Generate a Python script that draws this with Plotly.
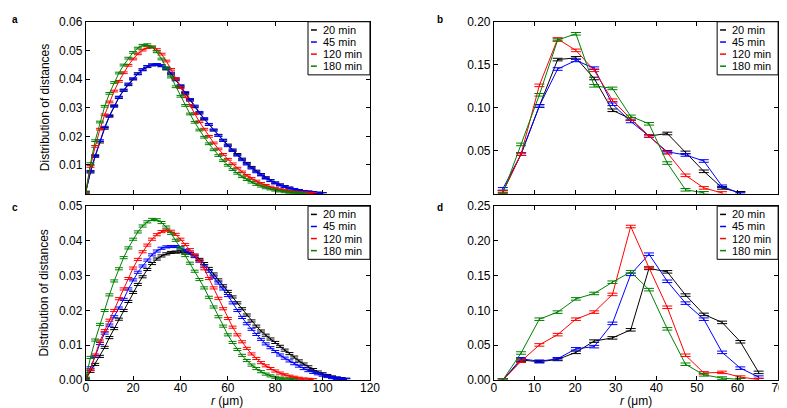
import plotly.graph_objects as go

# ---------------- data ----------------
SERIES = ["20 min", "45 min", "120 min", "180 min"]
COLORS = ["#000000", "#0000ff", "#ff0000", "#008000"]

R_FINE = [0, 2, 4, 6, 8, 10, 12, 14, 16, 18, 20, 22, 24, 26, 28, 30, 32, 34, 36, 38,
          40, 42, 44, 46, 48, 50, 52, 54, 56, 58, 60, 62, 64, 66, 68, 70, 72, 74, 76, 78,
          80, 82, 84, 86, 88, 90, 92, 94, 96, 98, 100, 102, 104, 106, 108, 110]

R_BIN = [2.2, 6.7, 11.2, 15.7, 20.2, 24.7, 29.2, 33.7, 38.2, 42.7, 47.2, 51.7, 56.2, 60.7, 65.2]

# panel a
a_20 = [0.0005, 0.0075, 0.013, 0.018, 0.0228, 0.027, 0.0305, 0.0335, 0.036, 0.038,
        0.040, 0.0418, 0.0432, 0.0443, 0.0449, 0.0450, 0.0446, 0.0435, 0.0418, 0.0397,
        0.0374, 0.0350, 0.0326, 0.0303, 0.0281, 0.0260, 0.0241, 0.0222, 0.0204, 0.0187,
        0.0170, 0.0153, 0.0137, 0.0121, 0.0106, 0.0092, 0.0079, 0.0067, 0.0056, 0.0046,
        0.0038, 0.0031, 0.0025, 0.0020, 0.0015, 0.0011, 0.0008, 0.0006, 0.0004, 0.0002, 0.0001]
a_45 = [0.0005, 0.0078, 0.0133, 0.0185, 0.0232, 0.0272, 0.0307, 0.0337, 0.0362, 0.0383,
        0.0401, 0.0419, 0.0433, 0.0444, 0.0450, 0.0451, 0.0447, 0.0437, 0.0421, 0.0400,
        0.0377, 0.0353, 0.0329, 0.0306, 0.0284, 0.0262, 0.0242, 0.0222, 0.0203, 0.0185,
        0.0167, 0.0150, 0.0134, 0.0118, 0.0103, 0.0089, 0.0076, 0.0065, 0.0054, 0.0045,
        0.0037, 0.0030, 0.0024, 0.0019, 0.0015, 0.0011, 0.0008, 0.0006, 0.0004, 0.0002, 0.0001]
a_120 = [0.0005, 0.0095, 0.0165, 0.0225, 0.0275, 0.032, 0.0358, 0.0392, 0.0422, 0.0448,
         0.0470, 0.0488, 0.0501, 0.0510, 0.0512, 0.0503, 0.0487, 0.0463, 0.0434, 0.0402,
         0.0370, 0.0338, 0.0308, 0.0279, 0.0251, 0.0225, 0.0200, 0.0177, 0.0156, 0.0137,
         0.0120, 0.0104, 0.0089, 0.0076, 0.0064, 0.0053, 0.0044, 0.0036, 0.0029, 0.0023,
         0.0018, 0.0014, 0.0011, 0.0008, 0.0006, 0.0004, 0.0003, 0.0002, 0.0001]
a_180 = [0.0005, 0.0105, 0.0185, 0.025, 0.0305, 0.035, 0.0388, 0.0421, 0.0449, 0.0473,
         0.0493, 0.0508, 0.0518, 0.0520, 0.0512, 0.0495, 0.0470, 0.0440, 0.0407, 0.0373,
         0.0340, 0.0308, 0.0278, 0.0249, 0.0222, 0.0197, 0.0174, 0.0153, 0.0133, 0.0115,
         0.0099, 0.0084, 0.0071, 0.0059, 0.0049, 0.0040, 0.0032, 0.0026, 0.0020, 0.0016,
         0.0012, 0.0009, 0.0006, 0.0004, 0.0003, 0.0002, 0.0001]

# panel c
c_20 = [0.0002, 0.0025, 0.0045, 0.0068, 0.0094, 0.0122, 0.0148, 0.0175, 0.0200, 0.0226,
        0.0252, 0.0275, 0.0297, 0.0318, 0.0335, 0.0348, 0.0357, 0.0363, 0.0367, 0.0368,
        0.0369, 0.0368, 0.0364, 0.0357, 0.0347, 0.0335, 0.0321, 0.0305, 0.0288, 0.0271,
        0.0255, 0.0239, 0.0222, 0.0205, 0.0187, 0.0170, 0.0155, 0.0141, 0.0129, 0.0118,
        0.0108, 0.0097, 0.0086, 0.0076, 0.0066, 0.0055, 0.0046, 0.0038, 0.0030, 0.0023,
        0.0018, 0.0013, 0.0009, 0.0006, 0.0004, 0.0002]
c_45 = [0.0003, 0.0035, 0.0068, 0.0105, 0.0135, 0.0158, 0.0182, 0.0207, 0.0232, 0.0262,
        0.0288, 0.0310, 0.0328, 0.0345, 0.0360, 0.0371, 0.0379, 0.0383, 0.0384, 0.0384,
        0.0380, 0.0373, 0.0365, 0.0355, 0.0342, 0.0328, 0.0313, 0.0296, 0.0279, 0.0262,
        0.0243, 0.0222, 0.0200, 0.0180, 0.0162, 0.0146, 0.0131, 0.0117, 0.0104, 0.0093,
        0.0082, 0.0072, 0.0063, 0.0055, 0.0047, 0.0040, 0.0033, 0.0027, 0.0022, 0.0018,
        0.0014, 0.0010, 0.0007, 0.0005, 0.0003, 0.0002]
c_120 = [0.0005, 0.0030, 0.0072, 0.0112, 0.0142, 0.0172, 0.0200, 0.0234, 0.0262, 0.0292,
         0.0322, 0.0347, 0.0369, 0.0388, 0.0405, 0.0418, 0.0427, 0.0431, 0.0428, 0.0419,
         0.0405, 0.0390, 0.0375, 0.0360, 0.0343, 0.0320, 0.0292, 0.0265, 0.0235, 0.0205,
         0.0177, 0.0152, 0.0130, 0.0110, 0.0091, 0.0075, 0.0062, 0.0050, 0.0041, 0.0033,
         0.0026, 0.0020, 0.0015, 0.0011, 0.0008, 0.0005, 0.0003, 0.0002, 0.0001]
c_180 = [0.0005, 0.0065, 0.0115, 0.0160, 0.0200, 0.0245, 0.0285, 0.0320, 0.0352, 0.0380,
         0.0405, 0.0426, 0.0443, 0.0455, 0.0462, 0.0461, 0.0453, 0.0440, 0.0422, 0.0402,
         0.0380, 0.0358, 0.0336, 0.0313, 0.0289, 0.0265, 0.0238, 0.0210, 0.0182, 0.0155,
         0.0130, 0.0108, 0.0088, 0.0071, 0.0056, 0.0043, 0.0033, 0.0024, 0.0017, 0.0012,
         0.0008, 0.0005, 0.0003, 0.0002, 0.0001]

# panel b
b_20 = [0.002, 0.046, 0.102, 0.156, 0.158, 0.134, 0.097, 0.087, 0.067, 0.070, 0.048, 0.026, 0.0067, 0.001]
b_45 = [0.0056, 0.046, 0.102, 0.145, 0.155, 0.146, 0.104, 0.084, 0.067, 0.0487, 0.045, 0.038, 0.0086, 0.0]
b_120 = [0.002, 0.046, 0.126, 0.180, 0.1667, 0.1435, 0.1087, 0.087, 0.067, 0.0475, 0.0213, 0.0067, 0.0008]
b_180 = [0.0, 0.0573, 0.115, 0.1787, 0.186, 0.1255, 0.1225, 0.0899, 0.0813, 0.0356, 0.0045, 0.001]

# panel d
d_20 = [0.0, 0.0287, 0.0264, 0.0296, 0.0398, 0.056, 0.0606, 0.0722, 0.1606, 0.1556, 0.1222, 0.0944, 0.0829, 0.055, 0.011]
d_45 = [0.0, 0.0306, 0.027, 0.0306, 0.0449, 0.048, 0.0815, 0.152, 0.181, 0.142, 0.1106, 0.0875, 0.0398, 0.0171, 0.0042]
d_120 = [0.0, 0.027, 0.0505, 0.0653, 0.0875, 0.0977, 0.1231, 0.2208, 0.1616, 0.1046, 0.0356, 0.0102, 0.011, 0.0042, 0.0008]
d_180 = [0.0, 0.0389, 0.0875, 0.0977, 0.1167, 0.1245, 0.1407, 0.1556, 0.130, 0.0736, 0.0227, 0.0074, 0.0028, 0.0008]

# error bar half sizes (approximate, per panel)
ERR = {"a": 0.0003, "b": 0.0015, "c": 0.0003, "d": 0.0018}

XT_A = [0, 20, 40, 60, 80, 100, 120]
XT_B = [0, 10, 20, 30, 40, 50, 60, 70]
YT_A = [0.01, 0.02, 0.03, 0.04, 0.05, 0.06]
YT_B = [0.05, 0.10, 0.15, 0.20]
YT_C = [0.00, 0.01, 0.02, 0.03, 0.04, 0.05]
YT_D = [0.00, 0.05, 0.10, 0.15, 0.20, 0.25]

# ---------------- layout helpers ----------------
W, H = 787, 408
FONT = "Liberation Sans, Arial, sans-serif"


def px(x):
    return x / W


def py(y):
    return 1 - y / H


fig = go.Figure()

panels = [
    ("a", "x", "y", R_FINE, [a_20, a_45, a_120, a_180], 4),
    ("b", "x2", "y2", R_BIN, [b_20, b_45, b_120, b_180], 5),
    ("c", "x3", "y3", R_FINE, [c_20, c_45, c_120, c_180], 4),
    ("d", "x4", "y4", R_BIN, [d_20, d_45, d_120, d_180], 5),
]

for key, xa, ya, xs, sets, capw in panels:
    for name, col, vals in zip(SERIES, COLORS, sets):
        fig.add_trace(go.Scatter(
            x=xs[:len(vals)], y=vals, mode="lines", name=name,
            line=dict(color=col, width=1),
            error_y=dict(type="constant", value=ERR[key], color=col,
                         thickness=1, width=capw),
            xaxis=xa, yaxis=ya, showlegend=False, hoverinfo="skip"))

axis_common = dict(showline=True, linecolor="black", linewidth=1, mirror="ticks",
                   ticks="inside", ticklen=4, tickwidth=1, tickcolor="black",
                   showgrid=False, zeroline=False,
                   tickfont=dict(family=FONT, size=12, color="black"))

dom_x_left = [px(76), px(365)]
dom_x_right = [px(491), px(780)]
dom_y_top = [py(185), py(7)]
dom_y_bot = [py(378), py(198)]

fig.update_layout(
    width=W, height=H, margin=dict(l=0, r=0, t=0, b=0),
    paper_bgcolor="white", plot_bgcolor="white", showlegend=False,
    font=dict(family=FONT, size=12, color="black"),
    xaxis=dict(domain=dom_x_left, range=[0, 120], tickvals=XT_A, showticklabels=False,
               anchor="y", **axis_common),
    yaxis=dict(domain=dom_y_top, range=[0, 0.06], tickvals=YT_A,
               ticktext=[f"{v:.2f}" for v in YT_A], anchor="x", **axis_common),
    xaxis2=dict(domain=dom_x_right, range=[0, 70], tickvals=XT_B, showticklabels=False,
                anchor="y2", **axis_common),
    yaxis2=dict(domain=dom_y_top, range=[0, 0.2], tickvals=YT_B,
                ticktext=[f"{v:.2f}" for v in YT_B], anchor="x2", **axis_common),
    xaxis3=dict(domain=dom_x_left, range=[0, 120], tickvals=XT_A,
                ticktext=[str(v) for v in XT_A], anchor="y3", ticklabelstandoff=-3,
                **axis_common),
    yaxis3=dict(domain=dom_y_bot, range=[0, 0.05], tickvals=YT_C,
                ticktext=[f"{v:.2f}" for v in YT_C], anchor="x3", **axis_common),
    xaxis4=dict(domain=dom_x_right, range=[0, 70], tickvals=XT_B,
                ticktext=[str(v) for v in XT_B], anchor="y4", ticklabelstandoff=-3,
                **axis_common),
    yaxis4=dict(domain=dom_y_bot, range=[0, 0.25], tickvals=YT_D,
                ticktext=[f"{v:.2f}" for v in YT_D], anchor="x4", **axis_common),
)

annotations = []
shapes = []

# panel letters
for letter, x, y in [("a", 0, 5), ("b", 432, 5), ("c", 0, 199), ("d", 432, 199)]:
    annotations.append(dict(text=f"<b>{letter}</b>", x=px(x), y=py(y), xref="paper", yref="paper",
                            xanchor="left", yanchor="middle", showarrow=False, borderpad=0,
                            font=dict(family=FONT, size=10, color="black")))

# y-axis titles
for yc in [96, 288]:
    annotations.append(dict(text="Distribution of distances", x=px(34), y=py(yc),
                            xref="paper", yref="paper", textangle=-90, showarrow=False,
                            xanchor="center", yanchor="middle", borderpad=0,
                            font=dict(family=FONT, size=12, color="black")))

# x-axis titles
for xc in [220, 636]:
    annotations.append(dict(text="<i>r</i> (\u03bcm)", x=px(xc), y=py(408), yanchor="bottom",
                            xref="paper", yref="paper", showarrow=False,
                            xanchor="center", borderpad=0,
                            font=dict(family=FONT, size=12, color="black")))

# legends (box + short line + text)
legend_specs = [
    (302, 365, 7, 62, [15.5, 28, 40.5, 53]),
    (718, 780, 7, 62, [15.5, 28, 40.5, 53]),
    (302, 365, 198, 253, [206.5, 219, 231.5, 244]),
    (718, 780, 198, 253, [206.5, 219, 231.5, 244]),
]
for x0, x1, y0, y1, rows in legend_specs:
    shapes.append(dict(type="rect", xref="paper", yref="paper",
                       x0=px(x0), x1=px(x1), y0=py(y1), y1=py(y0),
                       line=dict(color="black", width=1), fillcolor="white", layer="above"))
    for name, col, ry in zip(SERIES, COLORS, rows):
        shapes.append(dict(type="line", xref="paper", yref="paper",
                           x0=px(x0 + 3), x1=px(x0 + 9), y0=py(ry), y1=py(ry),
                           line=dict(color=col, width=1.5), layer="above"))
        annotations.append(dict(text=name, x=px(x0 + 14), y=py(ry), xref="paper", yref="paper",
                                xanchor="left", yanchor="middle", showarrow=False, borderpad=0,
                                font=dict(family=FONT, size=11, color="black")))

fig.update_layout(annotations=annotations, shapes=shapes)

fig.write_html("out.html")
